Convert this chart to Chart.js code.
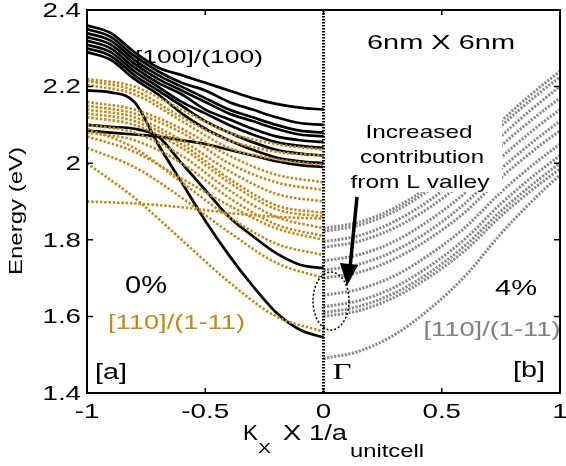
<!DOCTYPE html>
<html><head><meta charset="utf-8">
<script src="https://cdn.jsdelivr.net/npm/chart.js@4/dist/chart.umd.min.js"></script>
<style>html,body{margin:0;padding:0;background:#fff}#wrap{width:566px;height:466px;position:relative}</style>
</head><body><div id="wrap"><canvas id="c"></canvas></div>
<script>
// ---- sample positions (k in units of 1/a_unitcell) ----
const kLeft = [-1,-0.9,-0.8,-0.7,-0.6,-0.5,-0.4,-0.3,-0.2,-0.1,0];
const kLeftGold = [-1,-0.8,-0.6,-0.4,-0.2,0];
const kRight = [0,0.15,0.3,0.45,0.6,0.75,0.9,1.0];

// ---- [100]/(100), 0% strain : black solid bands (eV) ----
const blackBands = [
  [2.36,2.34,2.29,2.25,2.23,2.21,2.19,2.17,2.155,2.145,2.14],
  [2.35,2.33,2.28,2.24,2.21,2.19,2.16,2.14,2.12,2.105,2.10],
  [2.34,2.32,2.27,2.23,2.20,2.17,2.14,2.12,2.10,2.085,2.08],
  [2.33,2.31,2.26,2.22,2.19,2.16,2.13,2.11,2.09,2.075,2.07],
  [2.32,2.30,2.25,2.21,2.18,2.14,2.115,2.09,2.07,2.06,2.055],
  [2.31,2.29,2.24,2.20,2.16,2.13,2.10,2.075,2.055,2.045,2.04],
  [2.30,2.28,2.23,2.19,2.15,2.11,2.08,2.055,2.035,2.025,2.02],
  [2.29,2.27,2.22,2.18,2.13,2.09,2.06,2.035,2.015,2.005,2.00],
  [2.085,2.08,2.075,2.07,2.06,2.05,2.035,2.02,2.005,1.995,1.99],
  [2.10,2.095,2.09,2.07,2.00,1.93,1.86,1.81,1.765,1.735,1.726],
  [2.19,2.185,2.16,2.05,1.95,1.85,1.76,1.68,1.61,1.565,1.545]
];

// ---- [110]/(1-11), 0% strain : gold dotted bands (eV) ----
const goldBands = [
  [2.22,2.20,2.14,2.08,2.05,2.035],
  [2.215,2.19,2.12,2.06,2.03,2.02],
  [2.205,2.18,2.11,2.04,2.01,1.995],
  [2.16,2.14,2.09,2.02,1.97,1.95],
  [2.15,2.13,2.08,2.00,1.95,1.93],
  [2.14,2.12,2.06,1.98,1.92,1.90],
  [2.13,2.11,2.05,1.96,1.89,1.87],
  [2.12,2.10,2.04,1.95,1.88,1.86],
  [2.10,2.08,2.02,1.93,1.86,1.83],
  [2.08,2.06,2.00,1.91,1.84,1.81],
  [2.07,2.03,1.96,1.89,1.83,1.80],
  [2.09,2.04,1.95,1.86,1.79,1.76],
  [2.04,1.99,1.91,1.82,1.74,1.70],
  [2.00,1.91,1.80,1.69,1.60,1.56],
  [1.90,1.895,1.885,1.87,1.86,1.855]
];

// ---- [110]/(1-11), 4% strain : grey dotted bands (eV) ----
const greyBands = [
  [1.830,1.846,1.883,1.941,2.015,2.109,2.191,2.240],
  [1.822,1.838,1.874,1.931,2.003,2.096,2.177,2.225],
  [1.795,1.811,1.848,1.904,1.977,2.070,2.151,2.200],
  [1.780,1.796,1.831,1.885,1.956,2.045,2.123,2.170],
  [1.745,1.761,1.796,1.852,1.923,2.014,2.093,2.140],
  [1.720,1.736,1.771,1.825,1.896,1.985,2.063,2.110],
  [1.700,1.715,1.750,1.804,1.873,1.962,2.039,2.085],
  [1.655,1.671,1.706,1.762,1.833,1.924,2.003,2.050],
  [1.625,1.641,1.676,1.732,1.803,1.894,1.973,2.020],
  [1.610,1.626,1.661,1.715,1.786,1.875,1.953,2.000],
  [1.600,1.615,1.650,1.704,1.773,1.862,1.939,1.985],
  [1.490,1.509,1.552,1.620,1.706,1.816,1.912,1.970]
];

// ---- ticks ----
const xTickValues = [-1,-0.5,0,0.5,1];
const xTickLabels = ['-1','-0.5','0','0.5','1'];
const yTickValues = [1.4,1.6,1.8,2.0,2.2,2.4];
const yTickLabels = ['1.4','1.6','1.8','2','2.2','2.4'];

const GOLD = '#BF8B1C';
const GREY = '#8c8c8c';
const SANS = '"Liberation Sans", Arial, Helvetica, sans-serif';
const SERIF = '"Liberation Serif", "DejaVu Serif", serif';

function ds(xs, ys, color, width, dash, order) {
  return {
    data: xs.map((x, i) => ({x: x, y: ys[i]})),
    borderColor: color, borderWidth: width, borderDash: dash,
    pointRadius: 0, fill: false, cubicInterpolationMode: 'monotone', order: order
  };
}
const datasets = [];
blackBands.forEach(b => datasets.push(ds(kLeft, b, '#000', 2.7, [], 3)));
goldBands.forEach(b => datasets.push(ds(kLeftGold, b, GOLD, 2.6, [2.5, 1.8], 2)));
greyBands.forEach(b => datasets.push(ds(kRight, b, GREY, 3, [2.2, 1.4], 1)));

function txt(ctx, s, cx, cy, size, o) {
  o = o || {};
  ctx.save();
  ctx.font = size + 'px ' + (o.family || SANS);
  const m = ctx.measureText(s).width;
  const sx = o.w ? o.w / m : (o.sx || 1);
  ctx.translate(cx, cy);
  if (o.rot) ctx.rotate(o.rot);
  ctx.scale(sx, 1);
  ctx.fillStyle = o.color || '#000';
  ctx.textAlign = o.align || 'center';
  ctx.textBaseline = o.base || 'middle';
  ctx.fillText(s, 0, 0);
  ctx.restore();
}

const deco = {
  id: 'deco',
  afterDatasetsDraw(chart) {
    const ctx = chart.ctx, a = chart.chartArea, xs = chart.scales.x, ys = chart.scales.y;
    ctx.save();
    // white background of the annotation text
    ctx.fillStyle = '#fff';
    ctx.fillRect(346, 108, 156, 84);
    // annotations
    txt(ctx, '[100]/(100)', 199, 58, 19, {w: 128});
    txt(ctx, '6nm X 6nm', 441, 43, 21, {w: 148});
    txt(ctx, 'Increased', 419, 138, 19, {w: 107, base: 'alphabetic'});
    txt(ctx, 'contribution', 422, 163, 19, {w: 124, base: 'alphabetic'});
    txt(ctx, 'from L valley', 420, 188, 19, {w: 139, base: 'alphabetic'});
    txt(ctx, '0%', 146, 287, 23, {w: 42});
    txt(ctx, '[110]/(1-11)', 176.5, 323, 21, {w: 137, color: GOLD});
    txt(ctx, '4%', 516, 289, 22, {w: 42});
    txt(ctx, '[110]/(1-11)', 492, 330, 21, {w: 137, color: '#808080'});
    txt(ctx, '[a]', 111, 373, 22, {w: 32});
    txt(ctx, '[b]', 529, 371, 22, {w: 32});
    txt(ctx, 'Γ', 342, 373, 24, {w: 19, family: SERIF});

    // dotted zero line
    const x0 = xs.getPixelForValue(0);
    ctx.strokeStyle = '#000';
    ctx.lineWidth = 3;
    ctx.setLineDash([1.5, 1.5]);
    ctx.beginPath(); ctx.moveTo(x0, a.top); ctx.lineTo(x0, a.bottom); ctx.stroke();

    // dotted ellipse
    ctx.lineWidth = 1.5;
    ctx.setLineDash([2, 2]);
    ctx.beginPath(); ctx.ellipse(331, 301, 18, 29, 0, 0, Math.PI * 2); ctx.stroke();
    ctx.setLineDash([]);

    // arrow
    ctx.lineWidth = 3.5;
    ctx.beginPath(); ctx.moveTo(357, 197); ctx.lineTo(350, 268); ctx.stroke();
    ctx.fillStyle = '#000';
    ctx.beginPath(); ctx.moveTo(347, 286); ctx.lineTo(340, 263); ctx.lineTo(358, 265); ctx.closePath(); ctx.fill();

    // frame
    ctx.lineWidth = 2;
    ctx.strokeRect(a.left, a.top, a.right - a.left, a.bottom - a.top);
    // inward ticks
    ctx.lineWidth = 1.5;
    ctx.beginPath();
    xTickValues.forEach(v => {
      const p = xs.getPixelForValue(v);
      ctx.moveTo(p, a.bottom); ctx.lineTo(p, a.bottom - 5);
      ctx.moveTo(p, a.top); ctx.lineTo(p, a.top + 5);
    });
    yTickValues.forEach(v => {
      const p = ys.getPixelForValue(v);
      ctx.moveTo(a.left, p); ctx.lineTo(a.left + 6, p);
      ctx.moveTo(a.right, p); ctx.lineTo(a.right - 6, p);
    });
    ctx.stroke();

    // tick labels
    xTickValues.forEach((v, i) => txt(ctx, xTickLabels[i], xs.getPixelForValue(v), 412, 21, {sx: 1.32}));
    yTickValues.forEach((v, i) => txt(ctx, yTickLabels[i], 81, ys.getPixelForValue(v) + 1, 21, {sx: 1.32, align: 'right'}));

    // axis titles
    txt(ctx, 'Energy (eV)', 17, 211, 19, {w: 128, rot: -Math.PI / 2});
    txt(ctx, 'K', 243, 440, 22, {w: 15, align: 'left', base: 'alphabetic'});
    txt(ctx, 'X', 258, 453, 15, {w: 13, align: 'left', base: 'alphabetic'});
    txt(ctx, 'X 1/a', 283, 440, 22, {w: 64, align: 'left', base: 'alphabetic'});
    txt(ctx, 'unitcell', 350, 457, 18, {w: 74, align: 'left', base: 'alphabetic'});
    ctx.restore();
  }
};

new Chart(document.getElementById('c'), {
  type: 'line',
  data: {datasets: datasets},
  options: {
    responsive: true, maintainAspectRatio: false, animation: false, devicePixelRatio: 1,
    layout: {padding: {top: 10, right: 6, left: 0, bottom: 0}},
    plugins: {legend: {display: false}, tooltip: {enabled: false}},
    scales: {
      x: {type: 'linear', min: -1, max: 1,
          ticks: {display: false}, grid: {display: false, drawTicks: false}, border: {display: false},
          afterFit: s => { s.height = 73; }},
      y: {type: 'linear', min: 1.4, max: 2.4,
          ticks: {display: false}, grid: {display: false, drawTicks: false}, border: {display: false},
          afterFit: s => { s.width = 87; }}
    }
  },
  plugins: [deco]
});
</script>
</body></html>
